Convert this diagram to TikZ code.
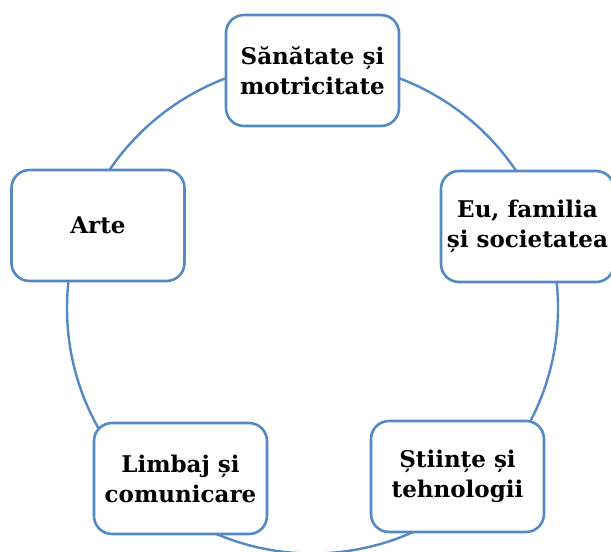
\documentclass[tikz,border=0pt]{standalone}
\usepackage{fontspec}
\setmainfont{DejaVu Serif}
\begin{document}
\begin{tikzpicture}[x=1pt,y=-1pt,
  area/.style={draw=boxblue, line width=2.6pt, fill=white, rounded corners=18pt,
    minimum width=173pt, minimum height=111pt, align=center,
    font=\fontsize{23}{30}\selectfont\bfseries, text=black, inner sep=0pt}]
\definecolor{boxblue}{RGB}{84,137,196}
\useasboundingbox (0,0) rectangle (611,552);
\clip (0,0) rectangle (611,552);
\node[circle, draw=boxblue, line width=2.4pt, minimum size=491pt, inner sep=0pt] (ring) at (312.5,308) {};
\node[area] (san) at (312.5,70.5) {Sănătate și\\motricitate};
\node[area] (eu) at (527.5,226.5) {Eu, familia\\și societatea};
\node[area] (sti) at (457.5,476.5) {Științe și\\tehnologii};
\node[area] (lim) at (180.5,478.5) {Limbaj și\\comunicare};
\node[area] (art) at (98,225.5) {Arte};
\end{tikzpicture}
\end{document}
